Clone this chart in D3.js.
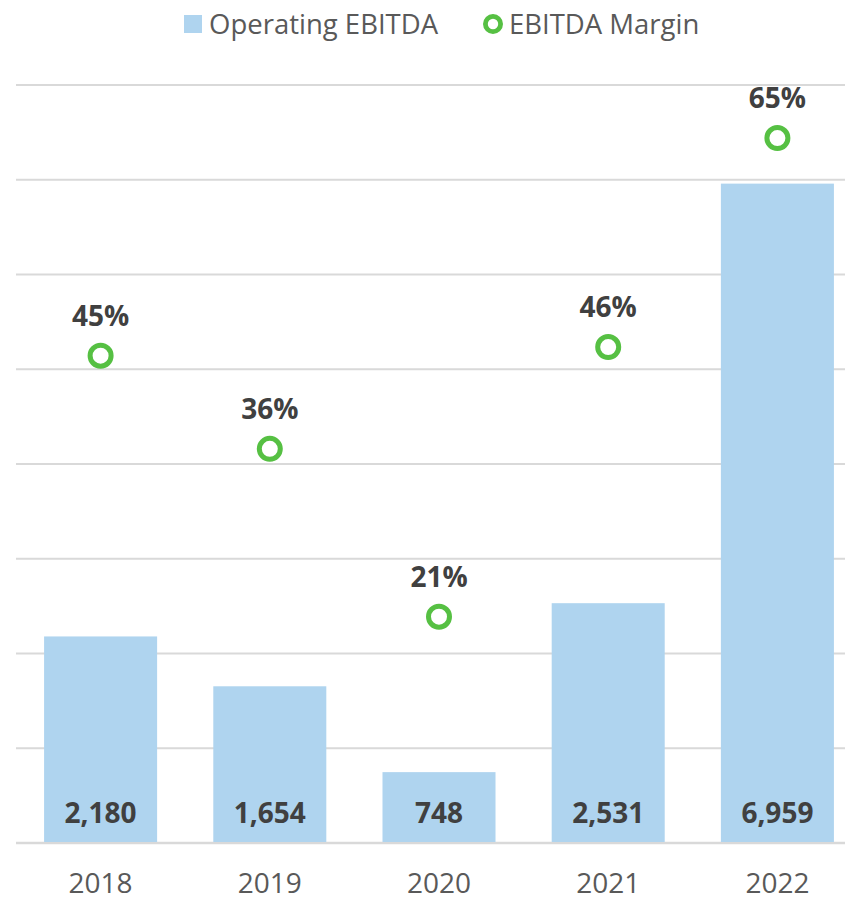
<!DOCTYPE html>
<html>
<head>
<meta charset="utf-8">
<script src="https://unpkg.com/d3@7/dist/d3.min.js"></script>
<style>
  body { margin: 0; background: #fff; }
  svg { display: block; font-family: 'Open Sans', sans-serif; }
</style>
</head>
<body>
<div id="container"></div>
<script>
const years = ['2018', '2019', '2020', '2021', '2022'];
const ebitda = [2180, 1654, 748, 2531, 6959];
const margin = [0.45, 0.364, 0.209, 0.458, 0.651];
const gridTicks = [0, 1000, 2000, 3000, 4000, 5000, 6000, 7000, 8000];

const width = 845;
const height = 899;
const plot = { left: 16, right: 862, top: 85, bottom: 843 };

const svg = d3.select('#container').append('svg')
  .attr('width', width)
  .attr('height', height);

const x = d3.scaleBand().domain(years).range([plot.left, plot.right])
  .paddingInner(0.332)
  .paddingOuter(0.166);
const y = d3.scaleLinear().domain([0, 8000]).range([plot.bottom, plot.top]);
const y2 = d3.scaleLinear().domain([0, 0.7]).range([plot.bottom, plot.top]);
const cx = (d, i) => x(years[i]) + x.bandwidth() / 2;

drawGrid();
drawBars();
drawMargin();
drawLegend();

function drawGrid() {
  svg.append('g').selectAll('line')
    .data(gridTicks)
    .join('line')
    .attr('x1', plot.left)
    .attr('x2', plot.right)
    .attr('y1', d => y(d))
    .attr('y2', d => y(d))
    .attr('stroke', '#d9d9d9')
    .attr('stroke-width', d => d === 0 ? 2.5 : 2);

  svg.append('g').selectAll('text')
    .data(years)
    .join('text')
    .attr('x', d => x(d) + x.bandwidth() / 2)
    .attr('y', 893)
    .attr('text-anchor', 'middle')
    .attr('font-size', '28px')
    .attr('fill', '#595959')
    .text(d => d);
}

function drawBars() {
  const g = svg.append('g');
  g.selectAll('rect')
    .data(ebitda)
    .join('rect')
    .attr('x', (d, i) => x(years[i]))
    .attr('y', d => y(d))
    .attr('width', x.bandwidth())
    .attr('height', d => y(0) - y(d) - 1)
    .attr('fill', '#afd4ef');

  g.selectAll('text')
    .data(ebitda)
    .join('text')
    .attr('x', cx)
    .attr('y', y(0) - 20)
    .attr('text-anchor', 'middle')
    .attr('font-size', '28px')
    .attr('font-weight', 'bold')
    .attr('fill', '#404040')
    .text(d => d3.format(',')(d));
}

function drawMargin() {
  const g = svg.append('g');
  g.selectAll('circle')
    .data(margin)
    .join('circle')
    .attr('cx', cx)
    .attr('cy', d => y2(d))
    .attr('r', 10.5)
    .attr('fill', '#fff')
    .attr('stroke', '#56c043')
    .attr('stroke-width', 5);

  g.selectAll('text')
    .data(margin)
    .join('text')
    .attr('x', cx)
    .attr('y', d => y2(d) - 30)
    .attr('text-anchor', 'middle')
    .attr('font-size', '28px')
    .attr('font-weight', 'bold')
    .attr('fill', '#404040')
    .text(d => d3.format('.0%')(d));
}

function drawLegend() {
  const g = svg.append('g').attr('font-size', '27.5px').attr('fill', '#595959');
  g.append('rect')
    .attr('x', 184).attr('y', 15)
    .attr('width', 18).attr('height', 18)
    .attr('fill', '#afd4ef');
  g.append('text').attr('x', 209).attr('y', 34).text('Operating EBITDA');

  g.append('circle')
    .attr('cx', 493).attr('cy', 24).attr('r', 7.6)
    .attr('fill', '#fff')
    .attr('stroke', '#56c043')
    .attr('stroke-width', 4.8);
  g.append('text').attr('x', 509).attr('y', 34).text('EBITDA Margin');
}
</script>
</body>
</html>
